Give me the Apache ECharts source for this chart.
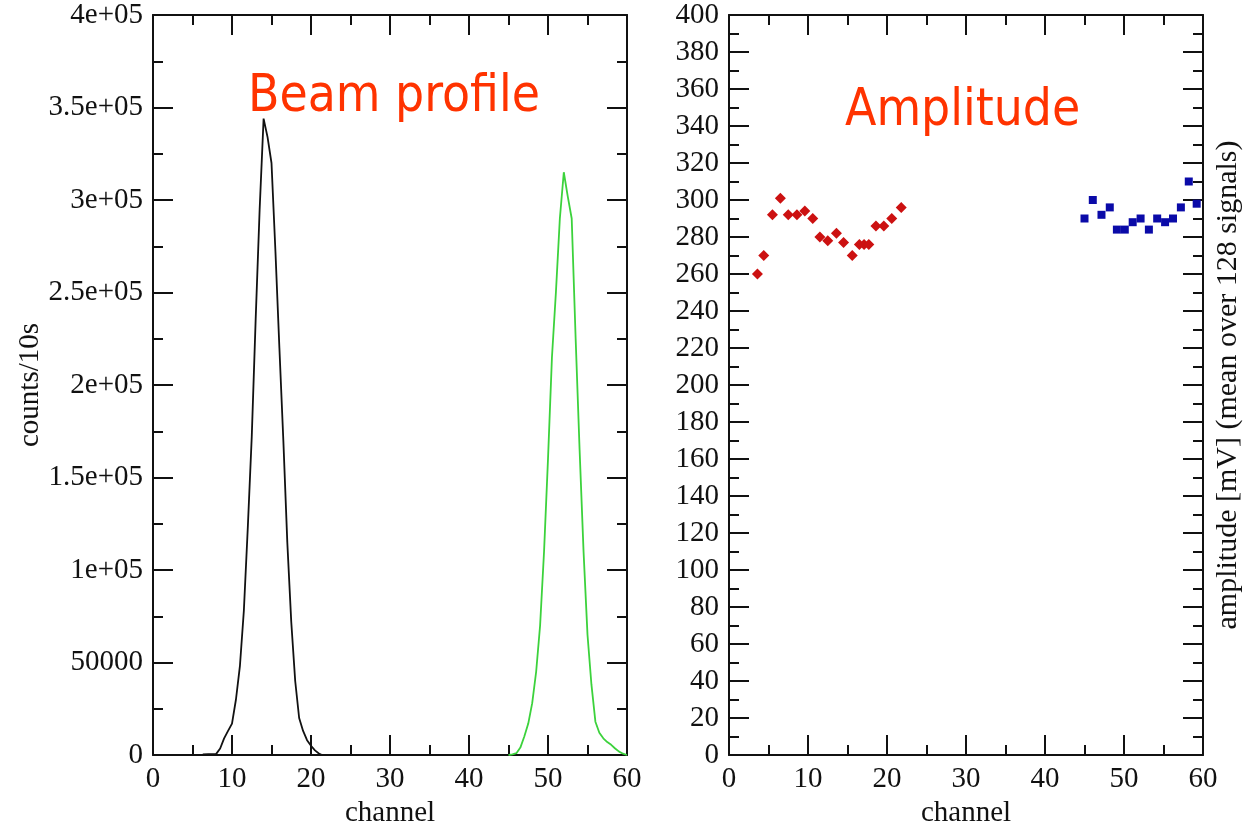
<!DOCTYPE html>
<html>
<head>
<meta charset="utf-8">
<script src="https://cdn.jsdelivr.net/npm/echarts@6/dist/echarts.min.js"></script>
<style>
html,body{margin:0;padding:0;background:#fff;}
#chart{width:1243px;height:822px;}
</style>
</head>
<body>
<div id="chart"></div>
<script>
// ---- data ----
const profileTitle = 'Beam profile';
const amplitudeTitle = 'Amplitude';

// black beam profile (first detector)
const profileAChannels = [6.3, 7, 8, 8.5, 9, 9.5, 10, 10.5, 11, 11.5, 12, 12.5, 13, 13.5, 14, 14.5, 15, 15.5, 16, 16.5, 17, 17.5, 18, 18.5, 19, 19.5, 20, 20.5, 21, 21.4];
const profileACounts   = [300, 500, 600, 3500, 9000, 13000, 17000, 30000, 48000, 78000, 123000, 172000, 236000, 295000, 344000, 334000, 320000, 272000, 220000, 170000, 115000, 72000, 40000, 20000, 13000, 8000, 5000, 2500, 800, 0];

// green beam profile (second detector)
const profileBChannels = [45, 45.5, 46, 46.5, 47, 47.5, 48, 48.5, 49, 49.5, 50, 50.5, 51, 51.5, 52, 52.5, 53, 53.5, 54, 54.5, 55, 55.5, 56, 56.5, 57, 57.5, 58, 58.5, 59, 59.5, 60];
const profileBCounts   = [0, 300, 1000, 4000, 10000, 17000, 28000, 45000, 70000, 110000, 160000, 215000, 250000, 290000, 315000, 302000, 290000, 225000, 165000, 110000, 65000, 38000, 18000, 12000, 9000, 7000, 5500, 3500, 1800, 700, 0];

// red amplitudes
const ampAChannels = [3.6, 4.4, 5.5, 6.5, 7.5, 8.6, 9.6, 10.6, 11.5, 12.5, 13.6, 14.5, 15.6, 16.5, 17.1, 17.7, 18.6, 19.6, 20.6, 21.8];
const ampAValues   = [260, 270, 292, 301, 292, 292, 294, 290, 280, 278, 282, 277, 270, 276, 276, 276, 286, 286, 290, 296];

// blue amplitudes
const ampBChannels = [45.0, 46.05, 47.15, 48.2, 49.1, 50.1, 51.1, 52.1, 53.15, 54.2, 55.2, 56.2, 57.2, 58.2, 59.2];
const ampBValues   = [290, 300, 292, 296, 284, 284, 288, 290, 284, 290, 288, 290, 296, 310, 298];

// tick labels
const countTickValues = [0, 50000, 100000, 150000, 200000, 250000, 300000, 350000, 400000];
const countTickLabels = ['0', '50000', '1e+05', '1.5e+05', '2e+05', '2.5e+05', '3e+05', '3.5e+05', '4e+05'];

const zip = (xs, ys) => xs.map((x, i) => [x, ys[i]]);

const serif = '"Liberation Serif", "DejaVu Serif", serif';
const tickFont = {fontFamily: serif, fontSize: 29, color: '#111'};
const nameFont = {fontFamily: serif, fontSize: 29, color: '#111'};
const axisLine = {show: true, onZero: false, lineStyle: {color: '#111', width: 2}};
const tickMajor = {show: true, inside: true, length: 20, lineStyle: {color: '#111', width: 2}};
const tickMinor = {show: true, splitNumber: 2, length: 10, lineStyle: {color: '#111', width: 2}};

function xAx(grid, pos, labels, name) {
  return {
    type: 'value', gridIndex: grid, position: pos, min: 0, max: 60, interval: 10,
    axisLine: axisLine, axisTick: tickMajor, minorTick: tickMinor,
    splitLine: {show: false},
    axisLabel: Object.assign({show: labels, margin: 10}, tickFont),
    name: name || '', nameLocation: 'middle', nameGap: 35,
    nameTextStyle: nameFont
  };
}

const titleFont = {color: '#ff3300', fontSize: 51, fontWeight: 'normal', fontFamily: '"DejaVu Sans Condensed", "Noto Sans", sans-serif'};

const chart = echarts.init(document.getElementById('chart'));
chart.setOption({
  backgroundColor: '#fff',
  animation: false,
  title: [
    {text: profileTitle, left: 243, top: 67, textStyle: titleFont},
    {text: amplitudeTitle, left: 840, top: 81, textStyle: titleFont}
  ],
  grid: [
    {left: 153, top: 15, width: 474, height: 740, outerBoundsMode: 'none', containLabel: false},
    {left: 729, top: 15, width: 474, height: 740, outerBoundsMode: 'none', containLabel: false}
  ],
  xAxis: [
    xAx(0, 'bottom', true, 'channel'),
    xAx(0, 'top', false),
    xAx(1, 'bottom', true, 'channel'),
    xAx(1, 'top', false)
  ],
  yAxis: [
    {
      type: 'value', gridIndex: 0, position: 'left', min: 0, max: 400000, interval: 50000,
      axisLine: axisLine, axisTick: tickMajor, minorTick: tickMinor, splitLine: {show: false},
      axisLabel: Object.assign({margin: 10, formatter: v => {
        const i = countTickValues.indexOf(v); return i >= 0 ? countTickLabels[i] : '';
      }}, tickFont),
      name: 'counts/10s', nameLocation: 'middle', nameGap: 107, nameRotate: 90,
      nameTextStyle: nameFont
    },
    {
      type: 'value', gridIndex: 0, position: 'right', min: 0, max: 400000, interval: 50000,
      axisLine: axisLine, axisTick: tickMajor, minorTick: tickMinor, splitLine: {show: false},
      axisLabel: {show: false}
    },
    {
      type: 'value', gridIndex: 1, position: 'left', min: 0, max: 400, interval: 20,
      axisLine: axisLine, axisTick: tickMajor, minorTick: tickMinor, splitLine: {show: false},
      axisLabel: Object.assign({margin: 10}, tickFont)
    },
    {
      type: 'value', gridIndex: 1, position: 'right', min: 0, max: 400, interval: 20,
      axisLine: axisLine, axisTick: tickMajor, minorTick: tickMinor, splitLine: {show: false},
      axisLabel: {show: false},
      name: 'amplitude [mV] (mean over 128 signals)', nameLocation: 'middle', nameGap: 10, nameRotate: 90,
      nameTextStyle: {fontFamily: serif, fontSize: 30, color: '#111'}
    }
  ],
  series: [
    {type: 'line', xAxisIndex: 0, yAxisIndex: 0, data: zip(profileAChannels, profileACounts),
     showSymbol: false, symbol: 'none', lineStyle: {color: '#111', width: 1.8}},
    {type: 'line', xAxisIndex: 0, yAxisIndex: 0, data: zip(profileBChannels, profileBCounts),
     showSymbol: false, symbol: 'none', lineStyle: {color: '#3cd23c', width: 1.8}},
    {type: 'scatter', xAxisIndex: 2, yAxisIndex: 2, data: zip(ampAChannels, ampAValues),
     symbol: 'diamond', symbolSize: 11, itemStyle: {color: '#cc1111', opacity: 1}},
    {type: 'scatter', xAxisIndex: 2, yAxisIndex: 2, data: zip(ampBChannels, ampBValues),
     symbol: 'rect', symbolSize: 8, itemStyle: {color: '#0a0aa8', opacity: 1}}
  ]
});
</script>
</body>
</html>
